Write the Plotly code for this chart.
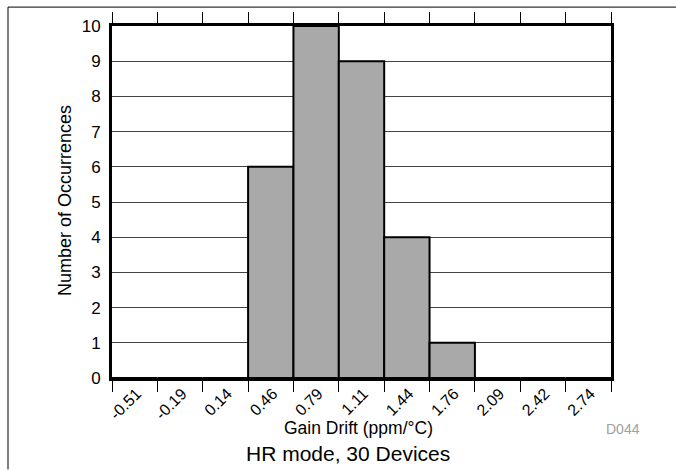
import plotly.graph_objects as go

bin_labels = ["-0.51", "-0.19", "0.14", "0.46", "0.79", "1.11", "1.44", "1.76", "2.09", "2.42", "2.74"]
counts = [0, 0, 0, 6, 10, 9, 4, 1, 0, 0, 0]
y_ticks = list(range(0, 11))

W, H = 676, 470
L, R, T, B = 112, 611, 24, 378

fig = go.Figure()
fig.add_trace(go.Bar(
    x=bin_labels, y=counts,
    marker=dict(color="#A9A9A9", line=dict(color="black", width=2)),
    showlegend=False, hoverinfo="skip",
))

font = "Liberation Sans, Arial, sans-serif"


def px(xp):
    return (xp - L) / (R - L)


def py(yp):
    return (B - yp) / (B - T)


fig.update_layout(
    width=W, height=H,
    margin=dict(l=L, r=W - R, t=T, b=H - B, pad=0),
    paper_bgcolor="white", plot_bgcolor="white",
    bargap=0,
    font=dict(family=font, color="black"),
    xaxis=dict(
        type="category", tickson="boundaries",
        ticks="outside", ticklen=11, tickwidth=1, tickcolor="black",
        tickangle=-45, tickfont=dict(size=16), ticklabelstandoff=-3,
        ticklabelshift=2,
        showline=True, linewidth=3, linecolor="black", mirror="ticks",
        showgrid=False, zeroline=False,
    ),
    yaxis=dict(
        range=[0, 10], tickvals=y_ticks, ticks="",
        tickfont=dict(size=17), ticklabelstandoff=5,
        showline=True, linewidth=3, linecolor="black", mirror=True,
        showgrid=True, gridcolor="#444444", gridwidth=1, zeroline=False,
    ),
    annotations=[
        dict(text="Number of Occurrences", xref="paper", yref="paper",
             x=px(65), y=py(200), textangle=-90, showarrow=False,
             font=dict(size=18), xanchor="center", yanchor="middle"),
        dict(text="Gain Drift (ppm/°C)", xref="paper", yref="paper",
             x=px(358), y=py(428), showarrow=False,
             font=dict(size=17.5), xanchor="center", yanchor="middle"),
        dict(text="HR mode, 30 Devices", xref="paper", yref="paper",
             x=px(348), y=py(454), showarrow=False,
             font=dict(size=21), xanchor="center", yanchor="middle"),
        dict(text="D044", xref="paper", yref="paper",
             x=px(623), y=py(429), showarrow=False,
             font=dict(size=14, color="#A0A0A0"), xanchor="center", yanchor="middle"),
    ],
    shapes=[
        dict(type="line", xref="paper", yref="paper",
             x0=px(8), x1=px(W), y0=py(5), y1=py(5),
             line=dict(color="black", width=1)),
        dict(type="line", xref="paper", yref="paper",
             x0=px(8), x1=px(8), y0=py(5), y1=py(H),
             line=dict(color="black", width=1)),
    ],
)

fig.write_html(
    "out.html",
    config={"displayModeBar": False, "staticPlot": True},
    post_script="document.body.style.margin='0';document.body.style.padding='0';",
)
